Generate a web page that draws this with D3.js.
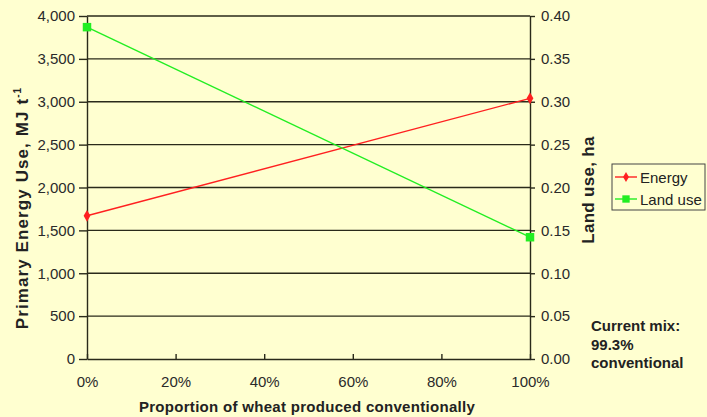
<!DOCTYPE html>
<html><head><meta charset="utf-8">
<script src="https://cdn.jsdelivr.net/npm/d3@7"></script>
<style>
html,body{margin:0;padding:0;background:#FFFFD0;}
svg{display:block;font-family:"Liberation Sans",Arial,sans-serif;}
</style></head>
<body>
<script>
// Share of wheat produced conventionally (0–1)
const proportions = [0, 1];
// Primary energy use, MJ per tonne
const energy = [1670, 3040];
// Land use, ha
const landUse = [0.387, 0.142];
const xTicks = [0, 0.2, 0.4, 0.6, 0.8, 1];
const leftTicks = [0, 500, 1000, 1500, 2000, 2500, 3000, 3500, 4000];
const rightTicks = [0, 0.05, 0.10, 0.15, 0.20, 0.25, 0.30, 0.35, 0.40];
const seriesNames = ["Energy", "Land use"];
const seriesColors = ["#FF2020", "#22EE22"];

const W = 707, H = 417;
const m = {left: 87, right: 530, top: 16, bottom: 359};
const bg = "#FFFFD0";

const svg = d3.select("body").append("svg").attr("width", W).attr("height", H);
svg.append("rect").attr("width", W).attr("height", H).attr("fill", bg);

const x = d3.scaleLinear().domain([0, 1]).range([m.left, m.right]);
const yL = d3.scaleLinear().domain([0, 4000]).range([m.bottom, m.top]);
const yR = d3.scaleLinear().domain([0, 0.4]).range([m.bottom, m.top]);

const ink = "#2a2a1a";

// horizontal gridlines
svg.append("g").selectAll("line").data(leftTicks.filter(d => d > 0)).join("line")
  .attr("x1", m.left).attr("x2", m.right)
  .attr("y1", d => yL(d)).attr("y2", d => yL(d))
  .attr("stroke", ink).attr("stroke-width", 1.4);

function styleAxis(g) {
  g.select(".domain").attr("stroke", ink).attr("stroke-width", 1.4);
  g.selectAll(".tick line").attr("stroke", ink).attr("stroke-width", 1.4);
  g.selectAll(".tick text").attr("fill", "#2a2a2a").attr("font-size", 15)
    .attr("font-family", "'Liberation Sans',Arial,sans-serif");
}

const gl = svg.append("g").attr("transform", `translate(${m.left},0)`)
  .call(d3.axisLeft(yL).tickValues(leftTicks).tickSize(8).tickPadding(4).tickSizeOuter(0)
    .tickFormat(d3.format(",")));
styleAxis(gl);

const gr = svg.append("g").attr("transform", `translate(${m.right},0)`)
  .call(d3.axisRight(yR).tickValues(rightTicks).tickSize(5).tickPadding(6).tickSizeOuter(0)
    .tickFormat(d3.format(".2f")));
styleAxis(gr);

const gb = svg.append("g").attr("transform", `translate(0,${m.bottom})`)
  .call(d3.axisBottom(x).tickValues(xTicks).tickSize(-5).tickPadding(17).tickSizeOuter(0)
    .tickFormat(d3.format(".0%")));
styleAxis(gb);

// series lines and markers: diamonds for energy, squares for land use
const series = [
  {name: seriesNames[0], color: seriesColors[0], vals: energy, y: yL, shape: d3.symbolDiamond, size: 40},
  {name: seriesNames[1], color: seriesColors[1], vals: landUse, y: yR, shape: d3.symbolSquare, size: 72}
];
series.forEach(s => {
  const pts = proportions.map((p, i) => [p, s.vals[i]]);
  svg.append("path").datum(pts)
    .attr("d", d3.line().x(d => x(d[0])).y(d => s.y(d[1])))
    .attr("fill", "none").attr("stroke", s.color).attr("stroke-width", 1.4);
  svg.append("g").selectAll("path").data(pts).join("path")
    .attr("transform", d => `translate(${x(d[0])},${s.y(d[1])})`)
    .attr("d", d3.symbol(s.shape, s.size))
    .attr("fill", s.color);
});

// axis titles
svg.append("text")
  .attr("transform", `translate(28,208) rotate(-90)`)
  .attr("text-anchor", "middle").attr("font-weight", "bold").attr("font-size", 17)
  .attr("letter-spacing", 1.1).attr("fill", "#222")
  .html('Primary Energy Use, MJ t<tspan dy="-7" font-size="10">-1</tspan>');

svg.append("text")
  .attr("transform", `translate(594,190) rotate(-90)`)
  .attr("text-anchor", "middle").attr("font-weight", "bold").attr("font-size", 17)
  .attr("letter-spacing", 0.3).attr("fill", "#222").text("Land use, ha");

svg.append("text")
  .attr("x", 307).attr("y", 412)
  .attr("text-anchor", "middle").attr("font-weight", "bold").attr("font-size", 15)
  .attr("letter-spacing", 0.3).attr("fill", "#222")
  .text("Proportion of wheat produced conventionally");

// legend
const lg = svg.append("g").attr("transform", "translate(612,164)");
lg.append("rect").attr("width", 93).attr("height", 46)
  .attr("fill", bg).attr("stroke", "#444").attr("stroke-width", 1);
series.forEach((s, i) => {
  const yy = 13 + i * 22;
  lg.append("line").attr("x1", 3).attr("x2", 25).attr("y1", yy).attr("y2", yy)
    .attr("stroke", s.color).attr("stroke-width", 1.4);
  lg.append("path").attr("transform", `translate(14,${yy})`)
    .attr("d", d3.symbol(s.shape, s.size * 0.75)).attr("fill", s.color);
  lg.append("text").attr("x", 28).attr("y", yy + 5.5).attr("font-size", 15)
    .attr("fill", "#222").text(s.name);
});

// annotation
const note = ["Current mix:", "99.3%", "conventional"];
svg.append("g").selectAll("text").data(note).join("text")
  .attr("x", 591).attr("y", (d, i) => 331 + i * 18.5)
  .attr("font-weight", "bold").attr("font-size", 15).attr("fill", "#222")
  .text(d => d);
</script>
</body></html>
